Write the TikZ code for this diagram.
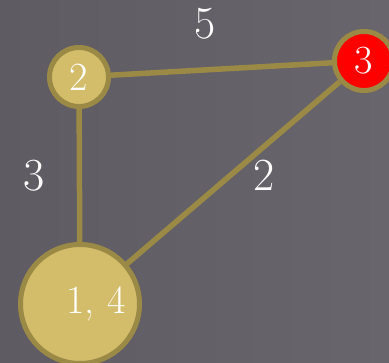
\documentclass[tikz,border=0pt]{standalone}
\usepackage{tikz}
\usetikzlibrary{positioning,backgrounds}
\definecolor{bgdark}{RGB}{94,91,98}
\definecolor{bglight}{RGB}{104,101,108}
\definecolor{vtxfill}{RGB}{211,189,106}
\definecolor{vtxline}{RGB}{155,138,69}
\begin{document}
\begin{tikzpicture}[
    x=1pt, y=1pt,
    vtx/.style={
        circle,
        draw=vtxline,
        line width=5pt,
        fill=vtxfill,
        text=white,
        inner sep=0pt,
        font=\fontsize{40}{44}\selectfont
    },
    edge/.style={
        draw=vtxline,
        line width=5.5pt
    },
    wlabel/.style={
        text=white,
        font=\fontsize{46}{50}\selectfont
    }
]
\useasboundingbox (0,0) rectangle (389,363);

% --- vertices ---
\node[vtx, minimum size=59pt] (v2) at (79,286) {2};
\node[vtx, minimum size=59pt, fill=red] (v3) at (364,302) {3};
\node[vtx, minimum size=119pt] (v14) at (80,59) {\hspace*{32pt}1, 4};

% --- background and edges ---
\begin{scope}[on background layer]
    \shade[left color=bgdark, right color=bglight] (0,0) rectangle (389,363);
    \path[edge] (v2) -- (v3);
    \path[edge] (v2) -- (v14);
    \path[edge] (v3) -- (v14);
\end{scope}

% --- weights ---
\node[wlabel] (w5) at (205,339) {5};
\node[wlabel] (w3) at (34,187) {3};
\node[wlabel] (w2) at (264,188) {2};
\end{tikzpicture}
\end{document}
